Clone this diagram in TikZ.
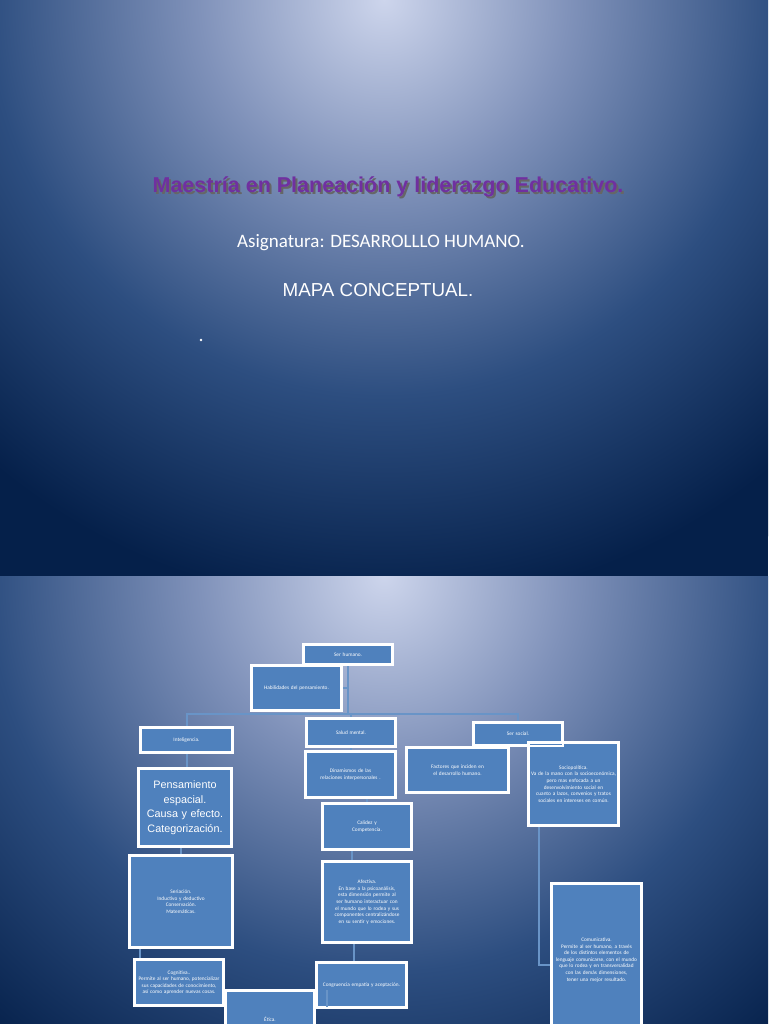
\documentclass[tikz,border=0pt]{standalone}
\usepackage{fontspec}
\setmainfont{Carlito}
\newfontfamily\arialfont{Liberation Sans}
\hyphenpenalty=10000
\definecolor{slideLight}{RGB}{205, 213, 236}
\definecolor{slideMidA}{RGB}{128, 146, 186}
\definecolor{slideMidB}{RGB}{45, 78, 128}
\definecolor{slideDark}{RGB}{5, 32, 74}
\definecolor{boxBlue}{RGB}{79, 129, 189}
\definecolor{titlePurple}{RGB}{112, 48, 160}
\pgfdeclareradialshading{slideGlow}{\pgfpoint{0bp}{0bp}}{%
    color(0bp)=(slideLight); color(7bp)=(slideMidA); color(15bp)=(slideMidB);
    color(23bp)=(slideDark); color(50bp)=(slideDark)}
\tikzset{
    % Concept box style
    concept/.style={
        rectangle,
        draw=white,
        line width=1.6pt,
        fill=boxBlue,
        text=white,
        align=center,
        inner sep=1pt,
        font=\fontsize{5.3}{6.6}\selectfont
    },
    box/.style n args={2}{concept, minimum width=#1pt, minimum height=#2pt, text width=#1pt-4pt},
    % Connector style
    link/.style={draw=boxBlue!85!white, line width=2pt}
}
\begin{document}
\begin{tikzpicture}[x=1pt, y=-1pt]
    \useasboundingbox (0,0) rectangle (768,1024);
    \clip (0,0) rectangle (768,1024);

    % --- SLIDE BACKGROUNDS ---
    \fill[slideDark] (0,0) rectangle (768,1024);
    \begin{scope}
        \clip (0,0) rectangle (768,576);
        \shade[shading=slideGlow] (384,0) circle (660);
    \end{scope}
    \begin{scope}
        \clip (0,576) rectangle (768,1024);
        \shade[shading=slideGlow] (384,576) circle (660);
    \end{scope}

    % --- TITLE SLIDE ---
    \node (titleShadow) at (390,189) {\arialfont\bfseries\fontsize{21.5}{25}\selectfont\color{black!60}Maestría en Planeación y liderazgo Educativo.};
    \node (title) at (388,187) {\arialfont\bfseries\fontsize{21.5}{25}\selectfont\color{titlePurple}Maestría en Planeación y liderazgo Educativo.};
    \node (subject) [text=white, font=\fontsize{19}{22}\selectfont] at (381,243) {Asignatura: DESARROLLLO HUMANO.};
    \node (mapTitle) [text=white, font=\arialfont\fontsize{18.8}{22}\selectfont] at (378,290) {MAPA CONCEPTUAL.};
    \fill[white] (201,340) circle (1.3);

    % --- CONCEPT MAP ---
    \node (ser) [box={88}{19}] at (348,654.5) {Ser humano.};
    \node (hab) [box={89}{44}] at (296.5,688) {Habilidades del pensamiento.};

    % Left branch
    \node (intel) [box={91}{24}] at (186.5,740) {Inteligencia.};
    \node (pens) [box={88}{77}, text width=90pt, font=\arialfont\fontsize{10.8}{14.5}\selectfont] at (185,807.5) {Pensamiento\\espacial.\\Causa y efecto.\\Categorización.};
    \node (seri) [box={102}{91}] at (181,901.5) {Seriación.\\Inductivo y deductivo\\Conservación.\\Matemáticas.};
    \node (cogn) [box={88}{45}] at (179,982.5) {Cognitiva..\\Permite al ser humano, potencializar sus capacidades de conocimiento, así como aprender nuevas cosas.};
    \node (etica) [box={88}{56}] at (270,1019) {Ética.};

    % Middle branch
    \node (salud) [box={88}{27}] at (351,732.5) {Salud mental.};
    \node (dinam) [box={89}{45}] at (350.5,774.5) {Dinamismos de las relaciones interpersonales .};
    \node (calidez) [box={88}{45}] at (367,826.5) {Calidez y\\Competencia.};
    \node (afect) [box={88}{80}] at (367,902) {Afectiva.\\En base a la psicoanálisis, esta dimensión permite al ser humano interactuar con el mundo que lo rodea y sus componentes centralizándose en su sentir y emociones.};
    \node (congr) [box={89}{44}] at (361.5,985) {Congruencia empatía y aceptación.};

    % Right branch
    \node (sersoc) [box={88}{22}] at (518,734) {Ser social.};
    \node (fact) [box={101}{44}] at (457.5,770) {Factores que inciden en el desarrollo humano.};
    \node (socio) [box={89}{82}] at (573.5,784) {Sociopolítica.\\Va de la mano con la socioeconómica, pero mas enfocada a un desenvolvimiento social en cuanto a lazos, convenios y tratos sociales en intereses en común.};
    \node (comun) [box={89}{152}] at (596.5,960) {Comunicativa.\\Permite al ser humano, a través de los distintos elementos de lenguaje comunicarse, con el mundo que lo rodea y en transversalidad con las demás dimensiones, tener una mejor resultado.};

    % --- Connectors ---
    \coordinate (hub) at (348,714);
    \draw [link] (ser.south) -- (hub);
    \draw [link] (hab.east) -- (348,688);
    \draw [link] (hub) -| (intel.north);
    \draw [link] (hub) -| (salud.north);
    \draw [link] (hub) -| (sersoc.north);
    \draw [link] (intel.south) -- (pens.north -| intel.south);
    \draw [link] (pens.south -| seri.north) -- (seri.north);
    \draw [link] (seri.south -| 140,0) -- (cogn.north -| 140,0);
    \draw [link] (salud.south) -- (dinam.north -| salud.south);
    \draw [link] (dinam.south -| calidez.north) -- (calidez.north);
    \draw [link] (calidez.south -| 352,0) -- (afect.north -| 352,0);
    \draw [link] (afect.south -| 354,0) -- (congr.north -| 354,0);
    \draw [link] (congr.south -| 327,0) -- (etica.north -| 327,0);
    \draw [link] (sersoc.south -| fact.north) -- (fact.north);
    \draw [link] (socio.south -| 539,0) |- (comun.west |- 0,965);

    % redraw box borders above connectors
    \foreach \n in {ser,hab,intel,pens,seri,cogn,etica,salud,dinam,calidez,afect,congr,sersoc,fact,socio,comun} {
        \draw[white, line width=1.6pt] (\n.south west) rectangle (\n.north east);
    }
\end{tikzpicture}
\end{document}
